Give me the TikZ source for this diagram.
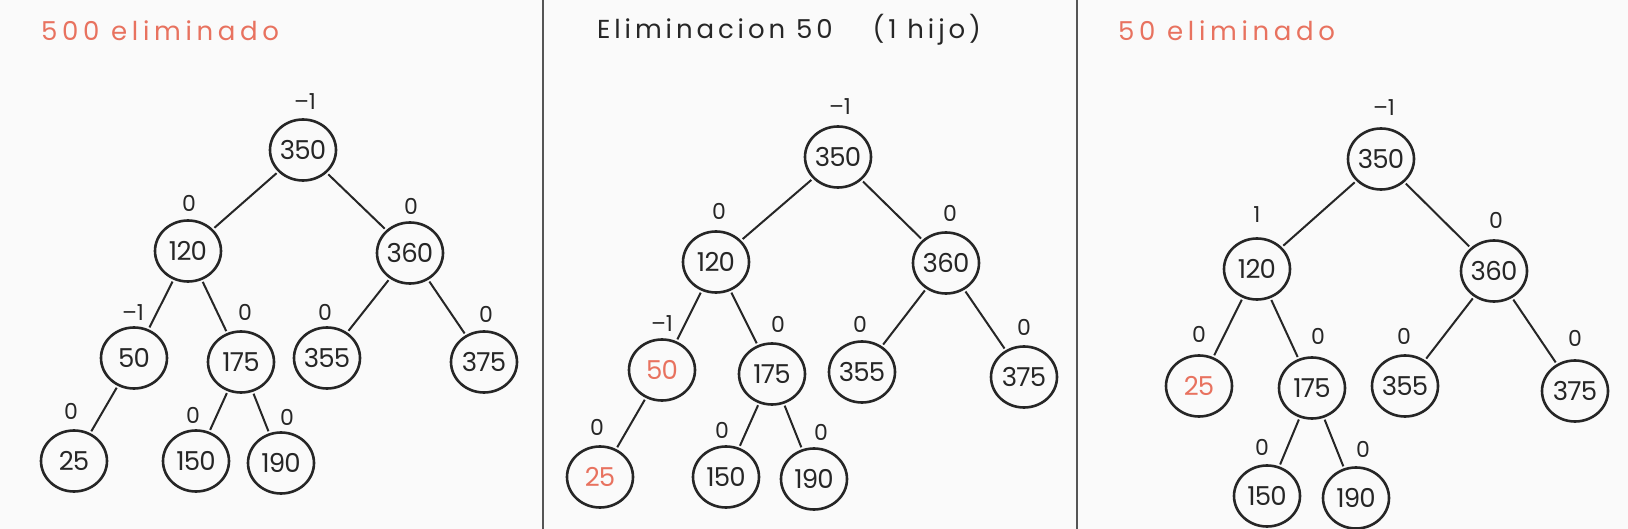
\documentclass[tikz,border=0pt]{standalone}
\usepackage{fontspec}
\setmainfont{Poppins}
\usetikzlibrary{shapes.geometric}
\definecolor{ink}{HTML}{262626}
\definecolor{redink}{HTML}{E8725F}
\definecolor{bg}{HTML}{FAFAFA}
\definecolor{sepc}{HTML}{555555}
\tikzset{
  tnode/.style={ellipse, draw=ink, line width=2.6pt, minimum width=66pt, minimum height=61pt,
    inner sep=0pt, font=\fontsize{26}{26}\selectfont\addfontfeatures{LetterSpace=-3}, text=ink},
  hl/.style={text=redink},
  bal/.style={font=\fontsize{22}{22}\selectfont, text=ink, inner sep=0pt},
  edge/.style={draw=ink, line width=2pt, shorten <=2pt, shorten >=2pt},
  ttl/.style={font=\fontsize{26}{26}\selectfont\addfontfeatures{LetterSpace=18}, inner sep=0pt, anchor=west},
  sepline/.style={draw=sepc, line width=2pt}
}
\begin{document}
\begin{tikzpicture}[x=1pt,y=-1pt]
\fill[bg] (0,0) rectangle (1628,529);
\useasboundingbox (0,0) rectangle (1628,529);
\draw[sepline] (542.7,0) -- (542.7,529);
\draw[sepline] (1076.7,0) -- (1076.7,529);

% ---------- Panel 1 ----------
\node[ttl, text=redink] (t1) at (41,31) {500 eliminado};
\node[tnode] (a350) at (303,150) {350};
\node[tnode] (a120) at (188,251) {120};
\node[tnode] (a360) at (410,253) {360};
\node[tnode] (a50)  at (134,358) {50};
\node[tnode] (a175) at (241,362) {175};
\node[tnode] (a355) at (327,358) {355};
\node[tnode] (a375) at (484,362) {375};
\node[tnode] (a25)  at (74,461) {25};
\node[tnode] (a150) at (196,461) {150};
\node[tnode] (a190) at (281,463) {190};
\node[bal] (ba350) at (305,102) {–1};
\node[bal] (ba120) at (189,203) {0};
\node[bal] (ba360) at (411,206) {0};
\node[bal] (ba50)  at (133,313) {–1};
\node[bal] (ba175) at (245,312) {0};
\node[bal] (ba355) at (325,312) {0};
\node[bal] (ba375) at (486,314) {0};
\node[bal] (ba25)  at (71,411) {0};
\node[bal] (ba150) at (193,415) {0};
\node[bal] (ba190) at (287,417) {0};
\draw[edge] (a350) -- (a120);
\draw[edge] (a350) -- (a360);
\draw[edge] (a120) -- (a50);
\draw[edge] (a120) -- (a175);
\draw[edge] (a360) -- (a355);
\draw[edge] (a360) -- (a375);
\draw[edge] (a50) -- (a25);
\draw[edge] (a175) -- (a150);
\draw[edge] (a175) -- (a190);

% ---------- Panel 2 ----------
\node[ttl, text=ink, font=\fontsize{26}{26}\selectfont\addfontfeatures{LetterSpace=15}] (t2) at (597,30) {Eliminacion 50\hspace{40pt}(1 hijo)};
\node[tnode] (b350) at (838,157) {350};
\node[tnode] (b120) at (716,262) {120};
\node[tnode] (b360) at (946,263) {360};
\node[tnode, hl] (b50) at (662,370) {50};
\node[tnode] (b175) at (772,374) {175};
\node[tnode] (b355) at (862,372) {355};
\node[tnode] (b375) at (1024,377) {375};
\node[tnode, hl] (b25) at (600,477) {25};
\node[tnode] (b150) at (726,477) {150};
\node[tnode] (b190) at (814,479) {190};
\node[bal] (bb350) at (840,107) {–1};
\node[bal] (bb120) at (719,211) {0};
\node[bal] (bb360) at (950,213) {0};
\node[bal] (bb50)  at (662,324) {–1};
\node[bal] (bb175) at (778,324) {0};
\node[bal] (bb355) at (860,324) {0};
\node[bal] (bb375) at (1024,327) {0};
\node[bal] (bb25)  at (597,427) {0};
\node[bal] (bb150) at (722,430) {0};
\node[bal] (bb190) at (821,432) {0};
\draw[edge] (b350) -- (b120);
\draw[edge] (b350) -- (b360);
\draw[edge] (b120) -- (b50);
\draw[edge] (b120) -- (b175);
\draw[edge] (b360) -- (b355);
\draw[edge] (b360) -- (b375);
\draw[edge] (b50) -- (b25);
\draw[edge] (b175) -- (b150);
\draw[edge] (b175) -- (b190);

% ---------- Panel 3 ----------
\node[ttl, text=redink] (t3) at (1118,31) {50 eliminado};
\node[tnode] (c350) at (1381,159) {350};
\node[tnode] (c120) at (1257,269) {120};
\node[tnode] (c360) at (1494,271) {360};
\node[tnode, hl] (c25) at (1199,386) {25};
\node[tnode] (c175) at (1312,388) {175};
\node[tnode] (c355) at (1405,386) {355};
\node[tnode] (c375) at (1575,391) {375};
\node[tnode] (c150) at (1267,496) {150};
\node[tnode] (c190) at (1356,498) {190};
\node[bal] (bc350) at (1384,108) {–1};
\node[bal] (bc120) at (1257,215) {1};
\node[bal] (bc360) at (1496,220) {0};
\node[bal] (bc25)  at (1199,334) {0};
\node[bal] (bc175) at (1318,336) {0};
\node[bal] (bc355) at (1404,336) {0};
\node[bal] (bc375) at (1575,338) {0};
\node[bal] (bc150) at (1262,447) {0};
\node[bal] (bc190) at (1363,449) {0};
\draw[edge] (c350) -- (c120);
\draw[edge] (c350) -- (c360);
\draw[edge] (c120) -- (c25);
\draw[edge] (c120) -- (c175);
\draw[edge] (c360) -- (c355);
\draw[edge] (c360) -- (c375);
\draw[edge] (c175) -- (c150);
\draw[edge] (c175) -- (c190);
\end{tikzpicture}
\end{document}
